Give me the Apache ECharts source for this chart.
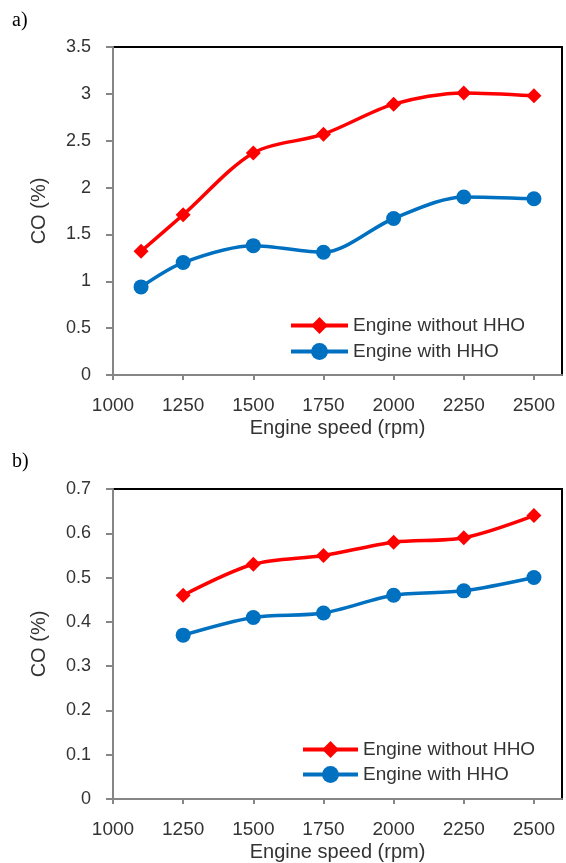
<!DOCTYPE html>
<html>
<head>
<meta charset="utf-8">
<script src="https://cdn.jsdelivr.net/npm/echarts@6/dist/echarts.min.js"></script>
<style>
html,body{margin:0;padding:0;background:#fff;}
#chart{width:566px;height:863px;}
</style>
</head>
<body>
<div id="chart"></div>
<script>
// ---- data ----
const speedsA = [1100, 1250, 1500, 1750, 2000, 2250, 2500];
const coWithoutA = [1.32, 1.71, 2.37, 2.57, 2.89, 3.01, 2.98];
const coWithA = [0.94, 1.20, 1.38, 1.31, 1.67, 1.90, 1.88];

const speedsB = [1250, 1500, 1750, 2000, 2250, 2500];
const coWithoutB = [0.46, 0.53, 0.55, 0.58, 0.59, 0.64];
const coWithB = [0.37, 0.41, 0.42, 0.46, 0.47, 0.50];

const xTicks = [1000, 1250, 1500, 1750, 2000, 2250, 2500];
const yTicksA = [0, 0.5, 1, 1.5, 2, 2.5, 3, 3.5];
const yTicksB = [0, 0.1, 0.2, 0.3, 0.4, 0.5, 0.6, 0.7];

const nameWithout = 'Engine without HHO';
const nameWith = 'Engine with HHO';

const pairs = (xs, ys) => xs.map((x, i) => [x, ys[i]]);

const RED = '#ff0000';
const BLUE = '#0070c0';
const AXIS_GRAY = '#868686';
const TEXT = '#333333';
const FONT = '"Liberation Sans", Arial, sans-serif';

function xAxis(gridIndex) {
  return {
    type: 'value', gridIndex, min: 1000, max: 2600, interval: 250,
    name: 'Engine speed (rpm)', nameLocation: 'middle', nameGap: 43,
    nameTextStyle: { fontSize: 20, color: TEXT, fontFamily: FONT },
    axisLine: { show: true, lineStyle: { color: AXIS_GRAY, width: 2 } },
    axisTick: { show: true, length: 5, lineStyle: { color: AXIS_GRAY, width: 2 }, customValues: xTicks },
    axisLabel: { fontSize: 19, color: TEXT, fontFamily: FONT, margin: 21, customValues: xTicks,
                 formatter: v => String(v) },
    splitLine: { show: false }
  };
}
function yAxis(gridIndex, max, interval, ticks) {
  return {
    type: 'value', gridIndex, min: 0, max, interval,
    name: 'CO (%)', nameLocation: 'middle', nameGap: 64,
    nameTextStyle: { fontSize: 20, color: TEXT, fontFamily: FONT },
    axisLine: { show: true, lineStyle: { color: AXIS_GRAY, width: 2 } },
    axisTick: { show: true, length: 7, lineStyle: { color: AXIS_GRAY, width: 2 }, customValues: ticks },
    axisLabel: { fontSize: 18, color: TEXT, fontFamily: FONT, margin: 22, customValues: ticks },
    splitLine: { show: false }
  };
}
function lineSeries(name, data, idx, color, symbol, size) {
  return {
    name, type: 'line', xAxisIndex: idx, yAxisIndex: idx, data,
    smooth: 0.3, symbol, symbolSize: size,
    lineStyle: { color, width: 3.5 },
    itemStyle: { color },
    z: symbol === 'circle' ? 3 : 4
  };
}
function legend(left, top, itemWidth, gap) {
  return {
    orient: 'vertical', left, top, itemWidth, itemHeight: 21, itemGap: gap,
    data: [nameWithout, nameWith], selectedMode: false,
    lineStyle: { width: 4 },
    textStyle: { fontSize: 19, color: TEXT, fontFamily: FONT }
  };
}

const chart = echarts.init(document.getElementById('chart'), null, { renderer: 'canvas' });
chart.setOption({
  animation: false,
  backgroundColor: '#fff',
  graphic: [
    { type: 'text', left: 12, top: 11, style: { text: 'a)', font: '20px "Liberation Serif", "Times New Roman", serif', fill: '#000' } },
    { type: 'text', left: 12, top: 452, style: { text: 'b)', font: '20px "Liberation Serif", "Times New Roman", serif', fill: '#000' } }
  ],
  grid: [
    { left: 113, top: 47, width: 449, height: 328, show: true, borderColor: '#000', borderWidth: 2, backgroundColor: '#fff' },
    { left: 113, top: 489, width: 449, height: 313, show: true, borderColor: '#000', borderWidth: 2, backgroundColor: '#fff' }
  ],
  xAxis: [xAxis(0), xAxis(1)],
  yAxis: [yAxis(0, 3.5, 0.5, yTicksA), yAxis(1, 0.7, 0.1, yTicksB)],
  legend: [legend(284, 311, 57, 7), legend(296, 735, 55, 6)],
  series: [
    lineSeries(nameWithout, pairs(speedsA, coWithoutA), 0, RED, 'diamond', 15),
    lineSeries(nameWith, pairs(speedsA, coWithA), 0, BLUE, 'circle', 15),
    lineSeries(nameWithout, pairs(speedsB, coWithoutB), 1, RED, 'diamond', 15),
    lineSeries(nameWith, pairs(speedsB, coWithB), 1, BLUE, 'circle', 15)
  ]
});
</script>
</body>
</html>
